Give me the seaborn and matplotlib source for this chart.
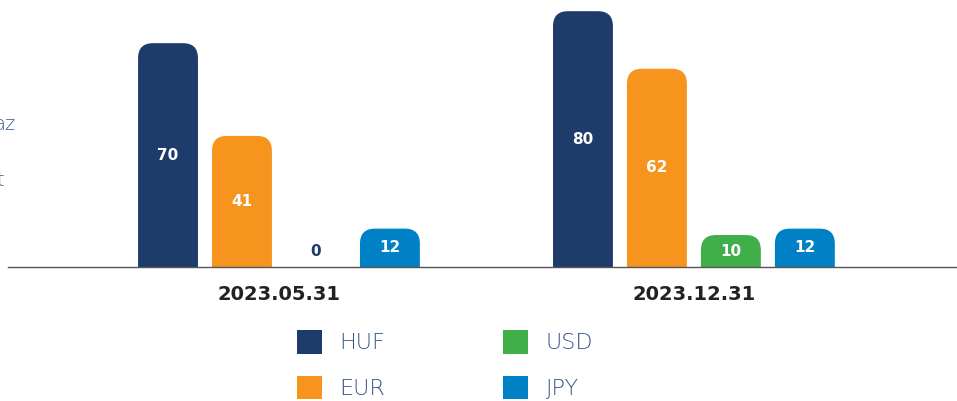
import matplotlib
matplotlib.use("Agg")
import matplotlib.pyplot as plt
from matplotlib.patches import FancyBboxPatch, Patch
import seaborn as sns
import pandas as pd

dates = ["2023.05.31", "2023.12.31"]
currencies = ["HUF", "EUR", "USD", "JPY"]
huf = [70, 80]
eur = [41, 62]
usd = [0, 10]
jpy = [12, 12]
colors = {"HUF": "#1d3c6c", "EUR": "#f7941d", "USD": "#40ae49", "JPY": "#0081c6"}

rows = []
for cur, vals in zip(currencies, [huf, eur, usd, jpy]):
    for d, v in zip(dates, vals):
        rows.append({"date": d, "currency": cur, "value": v})
df = pd.DataFrame(rows)

sns.set_theme(style="white")
W, H = 957, 401
fig = plt.figure(figsize=(W / 100, H / 100), dpi=100)
ax_left, ax_right = 8, 957
ax_bottom_px = 267
ax = fig.add_axes([ax_left / W, (H - ax_bottom_px) / H, (ax_right - ax_left) / W, ax_bottom_px / H])

sns.barplot(data=df, x="date", y="value", hue="currency", hue_order=currencies,
            palette=colors, width=0.713, gap=0.19, ax=ax, legend=False,
            errorbar=None, saturation=1)

ax.set_xlim(-0.653, 1.634)
ax.set_ylim(0, 83.5)

# convert patches to rounded-top bars
xpx = (ax_right - ax_left) / (1.634 + 0.653)
ypx = ax_bottom_px / 83.5
rad_px = 15
rx = rad_px / xpx
ry = rad_px / ypx
patches = list(ax.patches)
info = []
for p in patches:
    x0, w, h = p.get_x(), p.get_width(), p.get_height()
    fc = p.get_facecolor()
    p.remove()
    info.append((x0, w, h, fc))
    if h <= 0:
        continue
    bb = FancyBboxPatch((x0, -ry), w, h + ry,
                        boxstyle=f"round,pad=0,rounding_size={rx}",
                        mutation_aspect=ry / rx, facecolor=fc, edgecolor="none")
    ax.add_patch(bb)

for x0, w, h, fc in info:
    cx = x0 + w / 2
    if h <= 0:
        ax.text(cx, 4.8, "0", ha="center", va="center", color="#1d3c6c",
                fontsize=11, fontweight="bold")
    else:
        ax.text(cx, h / 2, f"{int(h)}", ha="center", va="center", color="white",
                fontsize=11, fontweight="bold")

for s in ["top", "right", "left"]:
    ax.spines[s].set_visible(False)
ax.spines["bottom"].set_color("#555555")
ax.spines["bottom"].set_linewidth(1.0)
ax.set_yticks([])
ax.set_xlabel("")
ax.set_ylabel("")
ax.tick_params(axis="x", length=0, pad=13)
for lab in ax.get_xticklabels():
    lab.set_fontsize(14)
    lab.set_fontweight("bold")
    lab.set_color("#222222")

# cut-off text on the left edge (as in the reference)
fig.text(16 / W, 1 - 125 / H, "az", ha="right", va="center", color="#3d5a8a",
         fontsize=14, fontweight="light")
fig.text(4 / W, 1 - 180 / H, "t", ha="right", va="center", color="#3d5a8a",
         fontsize=14, fontweight="light")

order = ["HUF", "EUR", "USD", "JPY"]
handles = [Patch(facecolor=colors[c], edgecolor="none", label=c) for c in order]
leg = fig.legend(handles=handles, ncol=2, loc="upper left",
                 bbox_to_anchor=(297 / W, 1 - 330 / H), frameon=False,
                 fontsize=16, handlelength=1.12, handleheight=1.25,
                 handletextpad=0.8, columnspacing=5.3, labelspacing=1.0,
                 borderpad=0, borderaxespad=0)
for t in leg.get_texts():
    t.set_color("#34528a")
    t.set_fontweight("light")

fig.savefig("out.png", dpi=100)
